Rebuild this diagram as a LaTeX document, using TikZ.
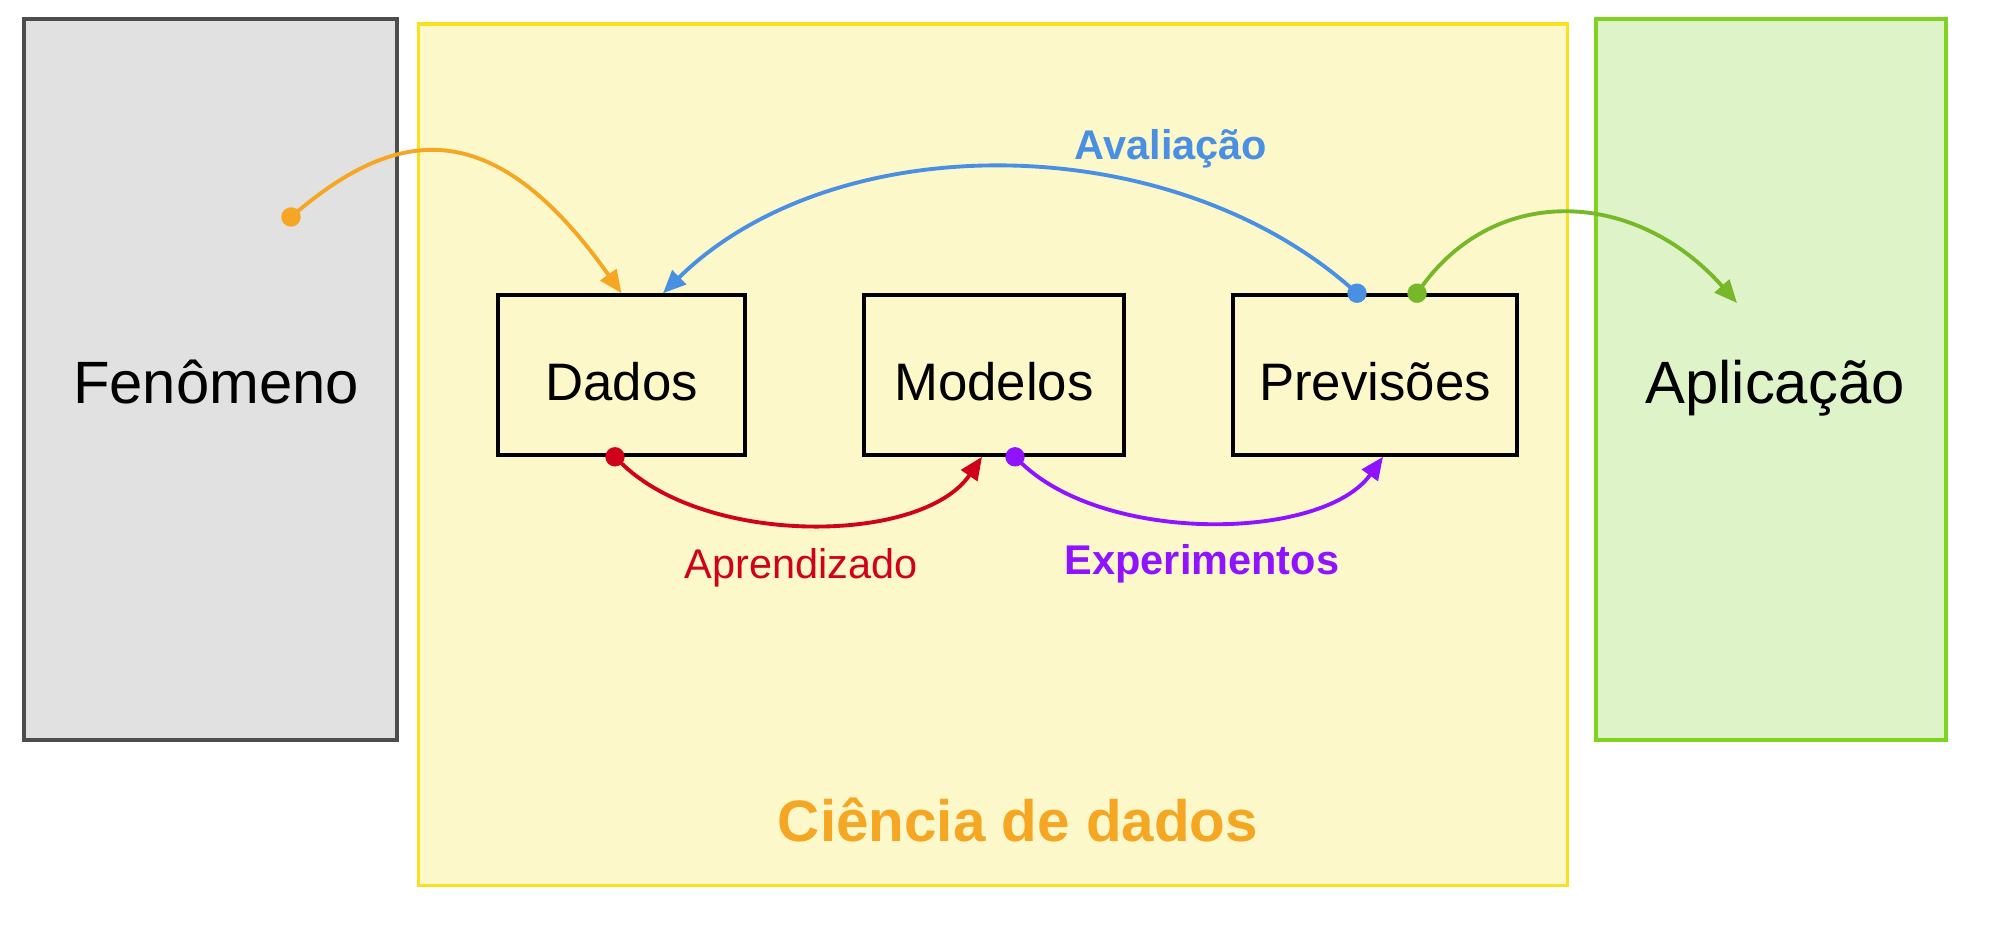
\documentclass[tikz,border=0pt]{standalone}
\usepackage{fontspec}
\setmainfont{Liberation Sans}
\usetikzlibrary{arrows.meta, positioning}
\definecolor{fenogray}{RGB}{225,225,225}
\definecolor{fenoline}{RGB}{77,77,77}
\definecolor{cienciafill}{RGB}{252,248,202}
\definecolor{cienciline}{RGB}{248,225,30}
\definecolor{aplicfill}{RGB}{223,243,200}
\definecolor{aplicline}{RGB}{126,211,33}
\definecolor{coletaorange}{RGB}{245,166,35}
\definecolor{aprendred}{RGB}{208,2,27}
\definecolor{experpurple}{RGB}{144,19,254}
\definecolor{avalblue}{RGB}{74,144,226}
\definecolor{usogreen}{RGB}{119,184,42}
\tikzset{
    area/.style={rectangle, line width=1pt, text height=15pt, text depth=0.4pt,
                 font=\fontsize{17}{20}\selectfont},
    stage/.style={rectangle, draw=black, line width=1pt, minimum height=1.6cm,
                  text height=15pt, text depth=0.4pt, font=\fontsize{15}{18}\selectfont},
    flow/.style={line width=1.1pt, {Circle[length=5.5pt, sep=-2.75pt]}-{Triangle[length=6.5pt, width=5.5pt]}},
    flowlabel/.style={text height=11.8pt, text depth=0.3pt, font=\fontsize{11.8}{14}\selectfont},
    boldlabel/.style={text height=11.8pt, text depth=0.3pt, font=\fontsize{11.8}{14}\selectfont\bfseries}
}

\begin{document}
\begin{tikzpicture}[x=0.01cm, y=-0.01cm]
    \useasboundingbox (0,0) rectangle (1999,927);

    % Areas
    \node[area, draw=fenoline, fill=fenogray, minimum width=3.73cm, minimum height=7.21cm]
        (fenomeno) at (210.5,379.5) {};
    \node[area, draw=cienciline, fill=cienciafill, minimum width=11.48cm, minimum height=8.61cm]
        (ciencia) at (993,454.5) {};
    \node[area, draw=aplicline, fill=aplicfill, minimum width=3.50cm, minimum height=7.21cm]
        (aplicacao) at (1771,379.5) {};
    \node[area] (fenomenotext) at (216,378) {Fenômeno};
    \node[area] (aplicacaotext) at (1775,378) {Aplicação};
    \node[font=\fontsize{16.6}{19}\selectfont\bfseries, text=coletaorange]
        (cienciatitle) at (1018,820) {Ciência de dados};

    % Stages
    \node[stage, minimum width=2.47cm] (dados) at (621.5,375) {Dados};
    \node[stage, minimum width=2.60cm] (modelos) at (994,375) {Modelos};
    \node[stage, minimum width=2.84cm] (previsoes) at (1375,375) {Previsões};

    \coordinate (coleta) at (291,217);
    \coordinate (uso) at (1737,303);

    % Connectors
    \draw[flow, coletaorange] (coleta) .. controls (400,125) and (495,115) .. (dados.north);
    \draw[flow, aprendred] ([xshift=-0.065cm]dados.south) .. controls +(90,90) and +(-60,88) .. ([xshift=-0.12cm]modelos.south);
    \draw[flow, experpurple] ([xshift=0.21cm]modelos.south) .. controls +(90,88) and +(-60,84) .. ([xshift=0.08cm]previsoes.south);
    \draw[flow, avalblue] ([xshift=-0.18cm]previsoes.north) .. controls +(-190,-167) and +(170,-167) .. ([xshift=0.415cm]dados.north);
    \draw[flow, usogreen] ([xshift=0.42cm]previsoes.north) .. controls +(80,-111) and +(-100,-113) .. (uso);

    % Labels
    \node[flowlabel, text=aprendred] (aprendizado) at (801,558) {Aprendizado};
    \node[boldlabel, text=experpurple] (experimentos) at (1202,554) {Experimentos};
    \node[boldlabel, text=avalblue] (avaliacao) at (1171,139) {Avaliação};
\end{tikzpicture}
\end{document}
